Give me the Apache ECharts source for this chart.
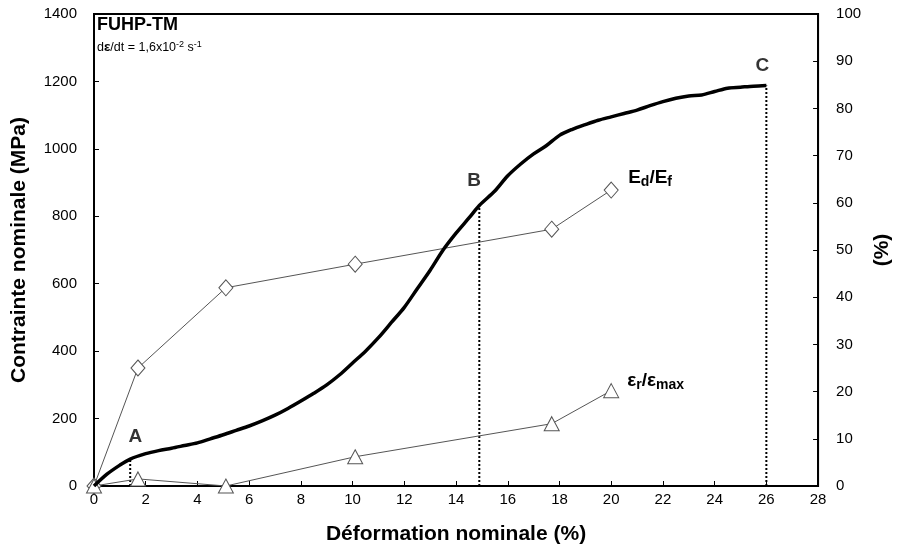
<!DOCTYPE html>
<html>
<head>
<meta charset="utf-8">
<script src="https://cdn.jsdelivr.net/npm/echarts@6/dist/echarts.min.js"></script>
<style>
html,body{margin:0;padding:0;background:#fff;}
#c{width:901px;height:553px;}
</style>
</head>
<body>
<div id="c"></div>
<script>
// Stress–strain curve (Déformation %, Contrainte MPa)
const strainX = [0,0.5,1.0,1.4,2.0,2.5,3.0,3.5,4.0,4.5,5.0,5.5,6.0,6.5,7.0,7.5,8.0,8.5,9.0,9.5,10.0,10.5,11.0,11.5,12.0,12.5,13.0,13.5,14.0,14.5,14.9,15.5,16.0,16.5,17.0,17.5,18.0,18.5,19.0,19.5,20.0,20.5,21.0,21.5,22.0,22.5,23.0,23.5,24.0,24.5,25.0,25.5,26.0];
const stressY = [0,35,62,80,96,105,112,120,128,140,152,165,178,193,210,230,252,275,300,330,365,400,440,485,530,585,640,700,750,795,832,875,920,955,985,1010,1040,1058,1072,1085,1095,1105,1115,1128,1140,1150,1157,1160,1170,1180,1183,1186,1188];

// Ed/Ef (%) and er/emax (%)
const ratioX = [0,1.7,5.1,10.1,17.7,20.0];
const edefY = [0,25,42,47,54.4,62.7];
const erX = [0,1.7,5.1,10.1,17.7,20.0];
const erY = [0,1.5,0,6.2,13.2,20.2];

// Points A, B, C (strain, stress)
const pointNames = ['A','B','C'];
const pointX = [1.4,14.9,26.0];
const pointY = [80,832,1188];
// label anchor positions (strain, stress)
const pointLabelX = [1.6,14.7,25.85];
const pointLabelY = [145,905,1245];

// axis ticks
const xTicks = {min:0,max:28,interval:2};
const yTicks = {min:0,max:1400,interval:200};
const y2Ticks = {min:0,max:100,interval:10};

const FONT = '"Liberation Sans", Arial, sans-serif';

const chart = echarts.init(document.getElementById('c'));

const dropSeries = pointNames.map((n,i)=>({
  type:'line', xAxisIndex:0, yAxisIndex:0, symbol:'none', silent:true,
  data:[[pointX[i],0],[pointX[i],pointY[i]]],
  lineStyle:{color:'#000',width:2,type:[2,2]}, z:3
}));

const subRich = {
  b:{fontFamily:FONT,fontWeight:'bold',fontSize:19,color:'#000'},
  s:{fontFamily:FONT,fontWeight:'bold',fontSize:14,color:'#000',verticalAlign:'bottom',padding:[9,0,0,0]}
};

const option = {
  animation:false,
  backgroundColor:'#fff',
  textStyle:{fontFamily:FONT},
  grid:{left:94,right:69,top:14,bottom:67,show:true,borderColor:'#000',borderWidth:2,containLabel:false},
  title:{
    left:97, top:16, padding:0, itemGap:6,
    text:'FUHP-TM',
    textStyle:{fontFamily:FONT,fontWeight:'bold',fontSize:18,color:'#000'},
    subtext:'{n|d}{e|ε}{n|/dt = 1,6x10}{s|-2}{n| s}{s|-1}',
    subtextStyle:{rich:{
      n:{fontFamily:FONT,fontSize:12.5,color:'#000'},
      e:{fontFamily:FONT,fontSize:13.5,fontWeight:'bold',color:'#000'},
      s:{fontFamily:FONT,fontSize:9,color:'#000',verticalAlign:'top',padding:[0,0,6,0]}
    }}
  },
  xAxis:{
    type:'value', min:xTicks.min, max:xTicks.max, interval:xTicks.interval,
    name:'Déformation nominale (%)', nameLocation:'middle', nameGap:38,
    nameTextStyle:{fontFamily:FONT,fontWeight:'bold',fontSize:21,color:'#000'},
    axisLine:{show:true,onZero:false,lineStyle:{color:'#000',width:2}},
    axisTick:{show:true,inside:true,length:5,lineStyle:{color:'#000',width:1}},
    axisLabel:{fontFamily:FONT,fontSize:15,color:'#000',margin:6},
    splitLine:{show:false}
  },
  yAxis:[{
    type:'value', min:yTicks.min, max:yTicks.max, interval:yTicks.interval,
    name:'Contrainte nominale (MPa)', nameLocation:'middle', nameGap:64, nameRotate:90,
    nameTextStyle:{fontFamily:FONT,fontWeight:'bold',fontSize:21,color:'#000'},
    axisLine:{show:true,lineStyle:{color:'#000',width:2}},
    axisTick:{show:true,inside:true,length:5,lineStyle:{color:'#000',width:1}},
    axisLabel:{fontFamily:FONT,fontSize:15,color:'#000',margin:17,formatter:v=>String(v)},
    splitLine:{show:false}
  },{
    type:'value', position:'right', min:y2Ticks.min, max:y2Ticks.max, interval:y2Ticks.interval,
    name:'(%)', nameLocation:'middle', nameGap:46, nameRotate:90,
    nameTextStyle:{fontFamily:FONT,fontWeight:'bold',fontSize:21,color:'#000'},
    axisLine:{show:true,lineStyle:{color:'#000',width:2}},
    axisTick:{show:true,inside:true,length:5,lineStyle:{color:'#000',width:1}},
    axisLabel:{fontFamily:FONT,fontSize:15,color:'#000',margin:18,formatter:v=>String(v)},
    splitLine:{show:false}
  }],
  series:[
    ...dropSeries,
    {
      type:'line', yAxisIndex:1, name:'Ed/Ef',
      data:ratioX.map((x,i)=>[x,edefY[i]]),
      symbol:'diamond', symbolSize:[14,16],
      itemStyle:{color:'#fff',borderColor:'#555',borderWidth:1},
      lineStyle:{color:'#555',width:1},
      endLabel:{show:true,offset:[9,-12],formatter:'{b|E}{s|d}{b|/E}{s|f}',rich:subRich},
      z:4
    },
    {
      type:'line', yAxisIndex:1, name:'er/emax',
      data:erX.map((x,i)=>[x,erY[i]]),
      symbol:'triangle', symbolSize:[15,14],
      itemStyle:{color:'#fff',borderColor:'#555',borderWidth:1},
      lineStyle:{color:'#555',width:1},
      endLabel:{show:true,offset:[8,-10],formatter:'{b|ε}{s|r}{b|/ε}{s|max}',rich:subRich},
      z:4
    },
    {
      type:'line', yAxisIndex:0, name:'stress',
      data:strainX.map((x,i)=>[x,stressY[i]]),
      symbol:'none', smooth:0.3,
      lineStyle:{color:'#000',width:3.5}, z:5
    },
    {
      type:'scatter', yAxisIndex:0, symbolSize:0, silent:true,
      data:pointNames.map((n,i)=>({value:[pointLabelX[i],pointLabelY[i]],name:n})),
      label:{show:true,position:'inside',formatter:'{b}',fontFamily:FONT,fontWeight:'bold',fontSize:19,color:'#000'}
    }
  ]
};
chart.setOption(option);
</script>
</body>
</html>
